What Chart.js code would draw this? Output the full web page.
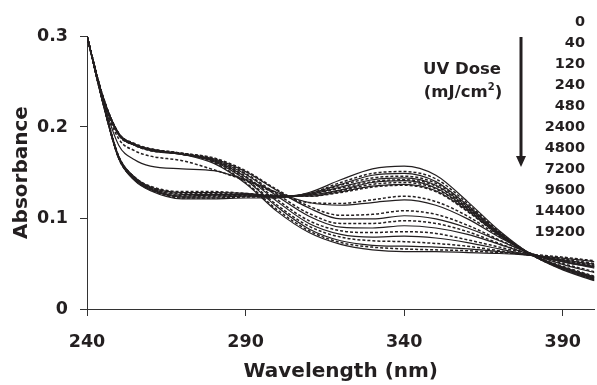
<!DOCTYPE html>
<html>
<head>
<meta charset="utf-8">
<script src="https://cdn.jsdelivr.net/npm/chart.js@4.4.0/dist/chart.umd.min.js"></script>
<style>
  html, body { margin: 0; padding: 0; background: #fff; }
</style>
</head>
<body>
<canvas id="uv_chart" width="597" height="385"></canvas>
<script>
// wavelengths (nm) the spectra are read at
const wavelengths = [240, 245, 250, 255, 260, 270, 280, 290, 300, 310, 320, 330, 340, 350, 360, 370, 380, 390, 400];

const doses = [0, 40, 120, 240, 480, 2400, 4800, 7200, 9600, 14400, 19200];

// solid spectra, one per UV dose
const solid0     = [0.300, 0.226, 0.165, 0.141, 0.130, 0.121, 0.121, 0.122, 0.122, 0.128, 0.142, 0.154, 0.157, 0.147, 0.118, 0.086, 0.060, 0.043, 0.031];
const solid40    = [0.300, 0.227, 0.166, 0.142, 0.131, 0.123, 0.123, 0.124, 0.123, 0.127, 0.137, 0.147, 0.149, 0.140, 0.114, 0.084, 0.060, 0.044, 0.032];
const solid120   = [0.300, 0.227, 0.166, 0.143, 0.132, 0.124, 0.125, 0.125, 0.124, 0.126, 0.134, 0.142, 0.144, 0.136, 0.112, 0.083, 0.060, 0.045, 0.033];
const solid240   = [0.300, 0.228, 0.167, 0.144, 0.133, 0.126, 0.126, 0.126, 0.124, 0.125, 0.131, 0.139, 0.141, 0.133, 0.110, 0.082, 0.060, 0.045, 0.034];
const solid480   = [0.300, 0.228, 0.168, 0.145, 0.134, 0.128, 0.128, 0.127, 0.124, 0.124, 0.129, 0.135, 0.137, 0.130, 0.108, 0.081, 0.060, 0.046, 0.035];
const solid2400  = [0.300, 0.230, 0.180, 0.164, 0.157, 0.154, 0.152, 0.142, 0.128, 0.117, 0.114, 0.117, 0.120, 0.114, 0.099, 0.079, 0.061, 0.049, 0.040];
const solid4800  = [0.300, 0.232, 0.191, 0.180, 0.174, 0.170, 0.165, 0.151, 0.130, 0.111, 0.099, 0.099, 0.1025, 0.099, 0.089, 0.075, 0.061, 0.052, 0.045];
const solid7200  = [0.300, 0.232, 0.192, 0.180, 0.175, 0.170, 0.164, 0.148, 0.124, 0.102, 0.090, 0.089, 0.0915, 0.089, 0.082, 0.071, 0.060, 0.052, 0.046];
const solid9600  = [0.300, 0.233, 0.192, 0.181, 0.175, 0.170, 0.163, 0.145, 0.118, 0.094, 0.082, 0.079, 0.080, 0.078, 0.073, 0.066, 0.059, 0.053, 0.047];
const solid14400 = [0.300, 0.233, 0.193, 0.181, 0.175, 0.170, 0.162, 0.142, 0.112, 0.088, 0.075, 0.070, 0.069, 0.068, 0.066, 0.063, 0.059, 0.054, 0.049];
const solid19200 = [0.300, 0.234, 0.193, 0.181, 0.176, 0.170, 0.160, 0.138, 0.107, 0.084, 0.071, 0.065, 0.063, 0.063, 0.062, 0.061, 0.059, 0.056, 0.052];

// dashed spectra, one per UV dose
const dash0     = [0.300, 0.227, 0.166, 0.142, 0.131, 0.122, 0.122, 0.123, 0.123, 0.127, 0.139, 0.149, 0.151, 0.143, 0.116, 0.085, 0.060, 0.044, 0.032];
const dash40    = [0.300, 0.227, 0.166, 0.143, 0.132, 0.123, 0.124, 0.124, 0.123, 0.126, 0.136, 0.144, 0.146, 0.138, 0.113, 0.084, 0.060, 0.044, 0.033];
const dash120   = [0.300, 0.228, 0.167, 0.143, 0.133, 0.125, 0.125, 0.125, 0.124, 0.126, 0.133, 0.140, 0.142, 0.135, 0.111, 0.083, 0.060, 0.045, 0.034];
const dash240   = [0.300, 0.228, 0.167, 0.144, 0.134, 0.127, 0.127, 0.126, 0.124, 0.125, 0.130, 0.137, 0.139, 0.132, 0.109, 0.082, 0.060, 0.046, 0.035];
const dash480   = [0.300, 0.229, 0.168, 0.145, 0.135, 0.129, 0.129, 0.127, 0.125, 0.124, 0.128, 0.134, 0.136, 0.129, 0.107, 0.081, 0.060, 0.047, 0.036];
const dash2400  = [0.300, 0.231, 0.187, 0.174, 0.168, 0.163, 0.153, 0.141, 0.127, 0.117, 0.116, 0.120, 0.124, 0.118, 0.102, 0.080, 0.061, 0.050, 0.041];
const dash4800  = [0.300, 0.232, 0.191, 0.180, 0.174, 0.171, 0.166, 0.152, 0.131, 0.113, 0.103, 0.104, 0.108, 0.104, 0.092, 0.076, 0.061, 0.052, 0.046];
const dash7200  = [0.300, 0.233, 0.192, 0.180, 0.175, 0.171, 0.165, 0.149, 0.126, 0.105, 0.094, 0.094, 0.097, 0.094, 0.085, 0.072, 0.060, 0.053, 0.047];
const dash9600  = [0.300, 0.233, 0.192, 0.181, 0.175, 0.171, 0.164, 0.146, 0.120, 0.097, 0.086, 0.084, 0.085, 0.083, 0.076, 0.068, 0.060, 0.054, 0.048];
const dash14400 = [0.300, 0.234, 0.193, 0.181, 0.176, 0.171, 0.163, 0.143, 0.114, 0.091, 0.079, 0.075, 0.074, 0.072, 0.069, 0.064, 0.059, 0.055, 0.050];
const dash19200 = [0.300, 0.234, 0.193, 0.182, 0.176, 0.171, 0.161, 0.139, 0.109, 0.086, 0.073, 0.068, 0.066, 0.065, 0.064, 0.062, 0.060, 0.057, 0.053];

const solidSets = [solid0, solid40, solid120, solid240, solid480, solid2400, solid4800, solid7200, solid9600, solid14400, solid19200];
const dashSets = [dash0, dash40, dash120, dash240, dash480, dash2400, dash4800, dash7200, dash9600, dash14400, dash19200];

const xTicks = [240, 290, 340, 390];
const yTicks = [0, 0.1, 0.2, 0.3];

const ink = '#231f20';
const fontFamily = '"DejaVu Sans", "Liberation Sans", Arial, sans-serif';

function toPoints(values) {
  return wavelengths.map((w, i) => ({ x: w, y: values[i] }));
}

const datasets = [];
doses.forEach((d, i) => {
  datasets.push({
    label: d + ' solid',
    data: toPoints(solidSets[i]),
    borderColor: ink,
    borderWidth: 1.2,
    pointRadius: 0,
    fill: false,
    cubicInterpolationMode: 'monotone'
  });
  datasets.push({
    label: d + ' dashed',
    data: toPoints(dashSets[i]),
    borderColor: ink,
    borderWidth: 1.5,
    borderDash: [3, 2],
    pointRadius: 0,
    fill: false,
    cubicInterpolationMode: 'monotone'
  });
});

// dose list, arrow and "UV Dose" note on the right
const doseNote = {
  id: 'doseNote',
  afterDraw(chart) {
    const ctx = chart.ctx;
    ctx.save();
    ctx.fillStyle = ink;
    ctx.strokeStyle = ink;

    ctx.font = 'bold 14.5px ' + fontFamily;
    ctx.textAlign = 'right';
    ctx.textBaseline = 'middle';
    doses.forEach((d, i) => {
      ctx.fillText(String(d), 585, 22 + i * 21);
    });

    // arrow
    ctx.lineWidth = 3;
    ctx.beginPath();
    ctx.moveTo(521, 37);
    ctx.lineTo(521, 158);
    ctx.stroke();
    ctx.beginPath();
    ctx.moveTo(516, 156);
    ctx.lineTo(526, 156);
    ctx.lineTo(521, 167);
    ctx.closePath();
    ctx.fill();

    // "UV Dose (mJ/cm2)"
    ctx.textAlign = 'center';
    ctx.font = 'bold 16.5px ' + fontFamily;
    ctx.fillText('UV Dose', 462, 70);

    const partA = '(mJ/cm';
    const partB = ')';
    const wA = ctx.measureText(partA).width;
    const wB = ctx.measureText(partB).width;
    ctx.font = 'bold 10px ' + fontFamily;
    const wS = ctx.measureText('2').width;
    const total = wA + wS + wB;
    const x0 = 463 - total / 2;
    ctx.textAlign = 'left';
    ctx.font = 'bold 16.5px ' + fontFamily;
    ctx.fillText(partA, x0, 93);
    ctx.font = 'bold 10px ' + fontFamily;
    ctx.fillText('2', x0 + wA, 87);
    ctx.font = 'bold 16.5px ' + fontFamily;
    ctx.fillText(partB, x0 + wA + wS, 93);
    ctx.restore();
  }
};

const ctx = document.getElementById('uv_chart');
const uvChart = new Chart(ctx, {
  type: 'line',
  data: { datasets: datasets },
  options: {
    responsive: false,
    animation: false,
    layout: { padding: { top: 36, right: 0, bottom: 0, left: 0 } },
    plugins: {
      legend: { display: false },
      tooltip: { enabled: false }
    },
    scales: {
      x: {
        type: 'linear',
        min: 240,
        max: 400,
        afterBuildTicks: s => { s.ticks = xTicks.map(v => ({ value: v })); },
        afterFit: s => { s.height = 76; },
        ticks: {
          color: ink,
          padding: 16,
          maxRotation: 0,
          font: { family: fontFamily, size: 17.5, weight: 'bold' }
        },
        grid: { drawOnChartArea: false, drawTicks: true, tickLength: 7, color: '#333', lineWidth: 1 },
        border: { display: true, color: '#333', width: 1 },
        title: {
          display: true,
          text: 'Wavelength (nm)',
          color: ink,
          font: { family: fontFamily, size: 20, weight: 'bold', lineHeight: 1.2 },
          padding: { top: 0, bottom: 1 }
        }
      },
      y: {
        min: 0,
        max: 0.3,
        afterBuildTicks: s => { s.ticks = yTicks.map(v => ({ value: v })); },
        afterFit: s => { s.width = 87; },
        ticks: {
          color: ink,
          padding: 12,
          font: { family: fontFamily, size: 17.5, weight: 'bold' },
          callback: v => (v === 0 ? '0' : v.toFixed(1))
        },
        grid: { drawOnChartArea: false, drawTicks: true, tickLength: 7, color: '#333', lineWidth: 1 },
        border: { display: true, color: '#333', width: 1 },
        title: {
          display: true,
          text: 'Absorbance',
          color: ink,
          font: { family: fontFamily, size: 20, weight: 'bold', lineHeight: 1.2 },
          padding: { top: 10, bottom: 0 }
        }
      }
    }
  },
  plugins: [doseNote]
});
</script>
</body>
</html>
